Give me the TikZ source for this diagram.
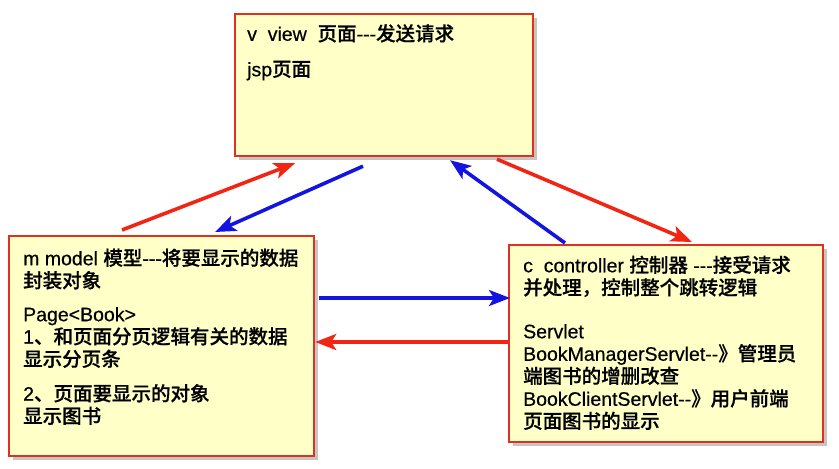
\documentclass[tikz,border=0pt]{standalone}
\usepackage{fontspec}
\setmainfont{Liberation Sans}[FakeBold=0.5]
\newfontfamily\cjk{Noto Sans CJK SC}[UprightFont=* Medium, FakeBold=0.6]
\usetikzlibrary{shadows,arrows.meta,calc}
\newcommand\zh[1]{{\cjk #1}}
\definecolor{boxfill}{HTML}{FFFFC8}
\definecolor{boxline}{HTML}{E0301E}
\definecolor{ared}{HTML}{F22414}
\definecolor{ablue}{HTML}{1414E0}
\tikzset{
  mbox/.style={draw=boxline, line width=2.2pt, fill=boxfill, anchor=north west, inner sep=0pt,
    drop shadow={shadow xshift=3.5pt, shadow yshift=-3.5pt, fill=black!45, opacity=0.5}},
  txt/.style={anchor=north west, inner sep=0pt, align=left, font=\fontsize{19.5}{22.5}\selectfont},
  arr/.style={line width=3.6pt, -{Stealth[length=21pt,width=16pt,inset=5pt]}},
  redarr/.style={arr, draw=ared, color=ared},
  bluearr/.style={arr, draw=ablue, color=ablue}
}
\begin{document}
\begin{tikzpicture}[x=1pt,y=-1pt]
\useasboundingbox (0,0) rectangle (839,469);
\node[mbox, minimum width=298pt, minimum height=142pt] (view) at (234,13) {};
\node[mbox, minimum width=305pt, minimum height=220pt] (model) at (8,235) {};
\node[mbox, minimum width=314pt, minimum height=197pt] (ctrl) at (508,244) {};
\node[txt] (viewtxt) at ($(view.north west)+(13,11)$)
  {v\ \ view\ \ \zh{页面}-{}-{}-\zh{发送请求}\\[13pt] jsp\zh{页面}};
\node[txt] (modeltxt) at ($(model.north west)+(15,13.5)$)
  {m model \zh{模型}-{}-{}-\zh{将要显示的数据}\\ \zh{封装对象}\\[11pt]
   Page<Book>\\ 1\zh{、和页面分页逻辑有关的数据}\\ \zh{显示分页条}\\[12pt]
   2\zh{、页面要显示的对象}\\ \zh{显示图书}};
\node[txt] (ctrltxt) at ($(ctrl.north west)+(15,11.5)$)
  {c\ \ controller \zh{控制器} -{}-{}-\zh{接受请求}\\ \zh{并处理，控制整个跳转逻辑}\\[21pt]
   Servlet\\ BookManagerServlet-{}-\zh{》管理员}\\ \zh{端图书的增删改查}\\
   BookClientServlet-{}-\zh{》用户前端}\\ \zh{页面图书的显示}};
\draw[redarr] ($(model.north west)+(114,-5)$) -- ($(view.south west)+(61,6)$);
\draw[bluearr] ($(view.south west)+(129,9)$) -- ($(model.north west)+(207,-3)$);
\draw[bluearr] ($(ctrl.north west)+(57,-1)$) -- ($(view.south west)+(216,3)$);
\draw[redarr] ($(view.south west)+(263,2)$) -- ($(ctrl.north west)+(184,-2)$);
\draw[bluearr] ($(model.north east)+(4,63)$) -- ($(ctrl.north west)+(2,54)$);
\draw[redarr] ($(ctrl.north west)+(0,98)$) -- ($(model.north east)+(0,107)$);
\end{tikzpicture}
\end{document}
